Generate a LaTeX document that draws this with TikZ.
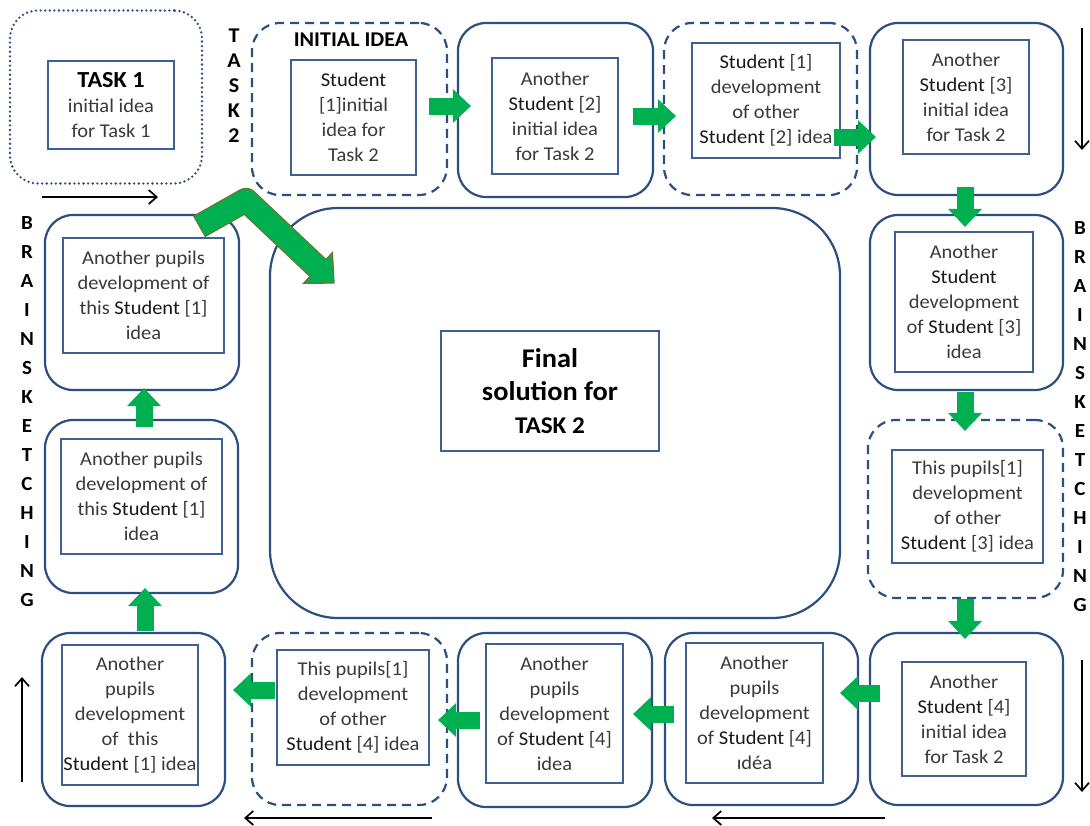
\documentclass[tikz,border=0pt]{standalone}
\usepackage{fontspec}
\setmainfont{Carlito}[FakeStretch=1.05]
\usetikzlibrary{arrows.meta,calc}
\definecolor{bord}{RGB}{44,78,128}
\definecolor{inb}{RGB}{62,96,146}
\definecolor{txt}{RGB}{58,58,58}
\definecolor{grn}{RGB}{0,176,80}
\definecolor{olv}{RGB}{110,115,45}
\newcommand\Stud{{\color{black!90}Student}}
\tikzset{
 obox/.style={draw=bord, line width=2.2pt, rounded corners=28pt, inner sep=0pt},
 solidbox/.style={obox},
 dashbox/.style={obox, dash pattern=on 9pt off 6pt},
 dotbox/.style={obox, line width=2.6pt, dash pattern=on 0pt off 4.6pt, line cap=round},
 ibox/.style={draw=inb, line width=1.6pt, inner sep=0pt, align=center, text=txt,
   font=\fontsize{19.5}{25}\selectfont},
 garrow/.style={draw=grn, line width=17pt, -{Triangle[length=18pt,width=34pt,line width=0pt]}},
 letters/.style={font=\bfseries\fontsize{20}{29}\selectfont, align=center, inner sep=0pt, text=black},
 blk/.style={draw=black, line width=1.7pt, -{Straight Barb[length=8pt,width=14pt]}}
}
\begin{document}
\begin{tikzpicture}[x=1pt,y=-1pt]
\useasboundingbox (0,0) rectangle (1090,825);
\fill[white] (0,0) rectangle (1090,825);

% big central box
\node[obox, rounded corners=68pt, minimum width=570pt, minimum height=410pt] (big) at (555,413) {};
\node[draw=inb, line width=2pt, minimum width=218pt, minimum height=120pt, align=center, inner sep=0pt,
  font=\bfseries\fontsize{27}{33}\selectfont] (final) at (550,391)
  {Final\\solution for\\{\fontsize{24}{33}\selectfont TASK 2}};

% top row
\node[dotbox, minimum width=192pt, minimum height=173pt] (task1) at (106,97) {};
\node[ibox, minimum width=126pt, minimum height=88pt] (task1in) at (111,105)
  {{\color{black}\bfseries\fontsize{23}{25}\selectfont TASK 1}\\initial idea\\for Task 1};

\node[letters, font=\bfseries\fontsize{21}{25}\selectfont] (task2lbl) at (234,86) {T\\A\\S\\K\\2};

\node[dashbox, minimum width=195pt, minimum height=172pt] (init) at (349.5,109) {};
\node[font=\bfseries\fontsize{21}{24}\selectfont, inner sep=0pt] (initlbl) at (351,40) {INITIAL IDEA};
\node[ibox, minimum width=125pt, minimum height=115pt] (initin) at (353.5,117.5)
  {\Stud\\{[1]initial}\\idea for\\Task 2};

\node[solidbox, minimum width=195pt, minimum height=174pt] (b2) at (555.5,110) {};
\node[ibox, minimum width=126pt, minimum height=116pt] (b2in) at (555,116)
  {Another\\\Stud{} [2]\\initial idea\\for Task 2};

\node[dashbox, minimum width=193pt, minimum height=172pt] (b3) at (760.5,109) {};
\node[ibox, minimum width=148pt, minimum height=115pt] (b3in) at (766,100.5)
  {\Stud{} [1]\\development\\of other\\\Stud{} [2] idea};

\node[solidbox, minimum width=193pt, minimum height=172pt] (b4) at (966.5,109) {};
\node[ibox, minimum width=126pt, minimum height=114pt] (b4in) at (966,97)
  {Another\\\Stud{} [3]\\initial idea\\for Task 2};

% right column
\node[solidbox, minimum width=193pt, minimum height=175pt] (b5) at (966.5,302.5) {};
\node[ibox, minimum width=138pt, minimum height=140pt] (b5in) at (964,302)
  {Another\\\Stud\\development\\of \Stud{} [3]\\idea};

\node[dashbox, minimum width=195pt, minimum height=178pt] (b6) at (965.5,509) {};
\node[ibox, minimum width=151pt, minimum height=113pt] (b6in) at (967.5,506.5)
  {This pupils[1]\\development\\of other\\\Stud{} [3] idea};

\node[solidbox, minimum width=193pt, minimum height=172pt] (b7) at (966.5,719) {};
\node[ibox, minimum width=124pt, minimum height=114pt] (b7in) at (964,719)
  {Another\\\Stud{} [4]\\initial idea\\for Task 2};

% bottom row
\node[solidbox, minimum width=193pt, minimum height=172pt] (b8) at (761.5,719) {};
\node[ibox, minimum width=137pt, minimum height=140pt] (b8in) at (754.5,713)
  {Another\\pupils\\development\\of \Stud{} [4]\\ıdéa};

\node[solidbox, minimum width=194pt, minimum height=174pt] (b9) at (555,720) {};
\node[ibox, minimum width=137pt, minimum height=139pt] (b9in) at (554.5,713.5)
  {Another\\pupils\\development\\of \Stud{} [4]\\idea};

\node[dashbox, minimum width=195pt, minimum height=172pt] (b10) at (349.5,719) {};
\node[ibox, minimum width=152pt, minimum height=115pt] (b10in) at (353,707.5)
  {This pupils[1]\\development\\of other\\\Stud{} [4] idea};

\node[solidbox, minimum width=183pt, minimum height=173pt] (b11) at (133.5,719.5) {};
\node[ibox, minimum width=136pt, minimum height=140pt] (b11in) at (130,715)
  {Another\\pupils\\development\\of\ \ this\\\Stud{} [1] idea};

% left column
\node[solidbox, minimum width=193pt, minimum height=173pt] (b12) at (141.5,506.5) {};
\node[ibox, minimum width=161pt, minimum height=115pt] (b12in) at (141.5,496.5)
  {Another pupils\\development of\\this \Stud{} [1]\\idea};

\node[solidbox, minimum width=194pt, minimum height=175pt] (b13) at (142,302.5) {};
\node[ibox, minimum width=161pt, minimum height=115pt] (b13in) at (143.5,295.5)
  {Another pupils\\development of\\this \Stud{} [1]\\idea};

% side letters
\node[letters] (leftlbl) at (27,412) {B\\R\\A\\I\\N\\S\\K\\E\\T\\C\\H\\I\\N\\G};
\node[letters] (rightlbl) at (1080,417) {B\\R\\A\\I\\N\\S\\K\\E\\T\\C\\H\\I\\N\\G};

% green block arrows
\draw[garrow] ($(init.east)+(-19,-3)$) -- ($(b2.west)+(14,-4)$);
\draw[garrow] ($(b2.east)+(-21,6)$) -- ($(b3.west)+(13,7)$);
\draw[garrow] ($(b3.east)+(-24,28)$) -- ($(b4.west)+(7,28)$);
\draw[garrow] ($(b4.south)+(-1.5,-9)$) -- ($(b5.north)+(-1.5,13)$);
\draw[garrow] ($(b5.south)+(-1.5,1)$) -- ($(b6.north)+(-0.5,12)$);
\draw[garrow] ($(b6.south)+(-0.5,0)$) -- ($(b7.north)+(-1.5,7)$);
\draw[garrow] ($(b7.west)+(11,-26)$) -- ($(b8.east)+(-19,-26)$);
\draw[garrow] ($(b8.west)+(10,-5)$) -- ($(b9.east)+(-20,-6)$);
\draw[garrow] ($(b9.west)+(23,0)$) -- ($(b10.east)+(-10,1)$);
\draw[garrow] ($(b10.west)+(24,-29)$) -- ($(b11.east)+(7,-29.5)$);
\draw[garrow] ($(b11.north)+(11.5,-1)$) -- ($(b12.south)+(3.5,-6)$);
\draw[garrow] ($(b12.north)+(2.5,8)$) -- ($(b13.south)+(2,-3)$);

% big bent arrow into the final box
\coordinate (bA) at (200,226);
\coordinate (bB) at (246,200);
\coordinate (bC) at (318,268);
\draw[olv, line width=24.5pt, line join=round, shorten <=-1.2pt] (bA) -- (bB) -- (bC);
\filldraw[fill=grn, draw=olv, line width=1.3pt] (332.4,252.7) -- (334,283) -- (303.6,283.3) -- cycle;
\draw[grn, line width=22pt, line join=round, shorten >=-1pt] (bA) -- (bB) -- (bC);

% black direction arrows
\coordinate (k1a) at (42,197);  \coordinate (k1b) at (158,197);
\coordinate (k2a) at (1082,28); \coordinate (k2b) at (1082,150);
\coordinate (k3a) at (1082,660); \coordinate (k3b) at (1082,792);
\coordinate (k4a) at (885,818); \coordinate (k4b) at (712,818);
\coordinate (k5a) at (432,818); \coordinate (k5b) at (244,818);
\coordinate (k6a) at (22,782);  \coordinate (k6b) at (22,677);
\draw[blk] (k1a) -- (k1b);
\draw[blk] (k2a) -- (k2b);
\draw[blk] (k3a) -- (k3b);
\draw[blk] (k4a) -- (k4b);
\draw[blk] (k5a) -- (k5b);
\draw[blk] (k6a) -- (k6b);
\end{tikzpicture}
\end{document}
